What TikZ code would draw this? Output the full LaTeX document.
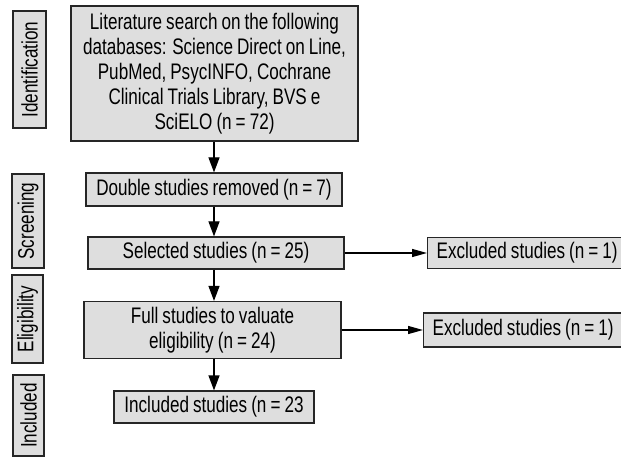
\documentclass[tikz,border=0pt]{standalone}
\usepackage{fontspec}
\setmainfont{Liberation Sans}[FakeStretch=0.76, WordSpace=0.85]
\usetikzlibrary{arrows.meta}
\begin{document}
\begin{tikzpicture}[x=1pt,y=1pt,
  box/.style={draw=black!85, line width=1.2pt, fill=black!13, inner sep=0pt, align=center,
    font=\fontsize{22.5}{25}\selectfont},
  lab/.style={box, rotate=90},
  varr/.style={line width=1.2pt, -{Triangle[length=15pt,width=11pt]}},
  harr/.style={line width=1.3pt, -{Triangle[length=15pt,width=8pt]}}]
\useasboundingbox (0,0) rectangle (621,-457);
% stage labels
\node[lab, minimum width=117, minimum height=33] (lid) at (29.5,-69.5) {Identification};
\node[lab, minimum width=94, minimum height=32] (lsc) at (28,-221) {Screening};
\node[lab, minimum width=88, minimum height=31] (lel) at (27.5,-319) {Eligibility};
\node[lab, minimum width=81, minimum height=31] (lin) at (28.5,-415.5) {Included};
% main boxes
\node[box, minimum width=287, minimum height=135] (b1) at (214.5,-73.5)
  {Literature search on the following\\databases: Science Direct on Line,\\PubMed, PsycINFO, Cochrane\\Clinical Trials Library, BVS e\\SciELO (n = 72)};
\node[box, minimum width=256, minimum height=33] (b2) at (214,-189.5) {Double studies removed (n = 7)};
\node[box, minimum width=256, minimum height=32] (b3) at (216,-253) {Selected studies (n = 25)};
\node[box, minimum width=257, minimum height=57] (b4) at (212.5,-330) {Full studies to valuate\\eligibility (n = 24)};
\node[box, minimum width=200, minimum height=32] (b5) at (214,-407) {Included studies (n = 23};
% excluded boxes
\node[box, anchor=west, minimum height=31, inner xsep=9pt] (e1) at (427,-253) {\makebox[195pt][l]{Excluded studies (n = 1)}};
\node[box, anchor=west, minimum height=34, inner xsep=9pt] (e2) at (423,-330) {\makebox[199pt][l]{Excluded studies (n = 1)}};
% connectors
\coordinate (ax) at (214,0);
\draw[varr] (b1.south -| ax) -- (b2.north -| ax);
\draw[varr] (b2.south -| ax) -- (b3.north -| ax);
\draw[varr] (b3.south -| ax) -- (b4.north -| ax);
\draw[varr] (b4.south -| ax) -- (b5.north -| ax);
\draw[harr] (b3.east) -- (e1.west |- b3.east);
\draw[harr] (b4.east) -- (e2.west |- b4.east);
\end{tikzpicture}
\end{document}
